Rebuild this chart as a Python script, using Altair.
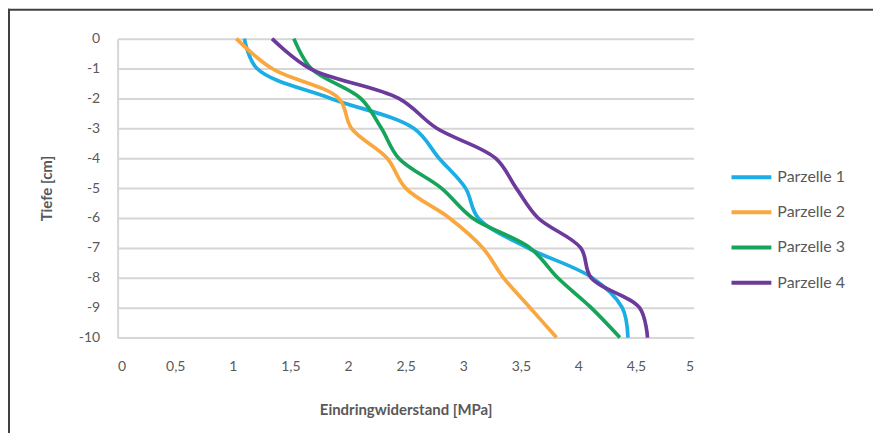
import altair as alt
import pandas as pd

depth = [0, -1, -2, -3, -4, -5, -6, -7, -8, -9, -10]
parzelle_1 = [1.10, 1.21, 1.85, 2.57, 2.79, 3.02, 3.13, 3.56, 4.12, 4.38, 4.43]
parzelle_2 = [1.03, 1.34, 1.92, 2.03, 2.34, 2.50, 2.88, 3.17, 3.35, 3.58, 3.81]
parzelle_3 = [1.53, 1.68, 2.11, 2.29, 2.44, 2.81, 3.08, 3.58, 3.82, 4.11, 4.36]
parzelle_4 = [1.34, 1.67, 2.44, 2.77, 3.28, 3.46, 3.65, 4.02, 4.11, 4.53, 4.60]

series_names = ["Parzelle 1", "Parzelle 2", "Parzelle 3", "Parzelle 4"]
series_colors = ["#1aaee5", "#f9a73e", "#16a45a", "#6b3a9b"]
x_ticks = [0, 0.5, 1, 1.5, 2, 2.5, 3, 3.5, 4, 4.5, 5]
y_ticks = [0, -1, -2, -3, -4, -5, -6, -7, -8, -9, -10]

rows = []
for name, vals in zip(series_names, [parzelle_1, parzelle_2, parzelle_3, parzelle_4]):
    for i, (d, v) in enumerate(zip(depth, vals)):
        rows.append({"serie": name, "tiefe": d, "wert": v, "idx": i})
df = pd.DataFrame(rows)

FONT = "Lato"
GRID = "#d6d6d6"
TEXT = "#595959"

lines = alt.Chart(df).mark_line(
    interpolate="catmull-rom", strokeWidth=3.7
).encode(
    x=alt.X(
        "wert:Q",
        scale=alt.Scale(domain=[0, 5], nice=False, zero=False),
        axis=alt.Axis(
            title="Eindringwiderstand [MPa]",
            values=x_ticks,
            labelExpr="replace(datum.value + '', '.', ',')",
            grid=False,
            ticks=False,
            tickSize=0,
            domain=True,
            domainColor=GRID,
            domainWidth=2,
            labelPadding=22,
            labelFont=FONT,
            labelFontSize=14,
            labelColor=TEXT,
            titleFont=FONT,
            titleFontSize=15,
            titleFontWeight="bold",
            titleColor=TEXT,
            titleX=289,
            titleY=72,
            titleBaseline="middle",
        ),
    ),
    y=alt.Y(
        "tiefe:Q",
        scale=alt.Scale(domain=[-10, 0], nice=False, zero=False),
        axis=alt.Axis(
            title="Tiefe [cm]",
            values=y_ticks,
            labelExpr="datum.value + ''",
            grid=True,
            gridColor=GRID,
            gridWidth=2,
            ticks=False,
            tickSize=0,
            domain=True,
            domainColor=GRID,
            domainWidth=2,
            labelPadding=18,
            labelFont=FONT,
            labelFontSize=14,
            labelColor=TEXT,
            titleFont=FONT,
            titleFontSize=15,
            titleFontWeight="bold",
            titleColor=TEXT,
            titleX=-71,
            titleY=150,
            titleBaseline="middle",
        ),
    ),
    color=alt.Color(
        "serie:N",
        scale=alt.Scale(domain=series_names, range=series_colors),
        legend=alt.Legend(
            title=None,
            orient="none",
            legendX=614,
            legendY=117,
            symbolType="stroke",
            symbolSize=1600,
            symbolStrokeWidth=4,
            labelFont=FONT,
            labelFontSize=16,
            labelColor=TEXT,
            labelOffset=4,
            rowPadding=5.3,
            padding=0,
        ),
    ),
    order=alt.Order("idx:Q"),
)

frame = alt.Data(values=[{"k": 1}])
border_left = alt.Chart(frame).mark_rule(color="#404040", strokeWidth=2).encode(
    x=alt.value(-109), y=alt.value(-30), y2=alt.value(400)
)
border_top = alt.Chart(frame).mark_rule(color="#404040", strokeWidth=2).encode(
    x=alt.value(-110), x2=alt.value(770), y=alt.value(-29)
)

chart = alt.layer(lines, border_left, border_top).properties(
    width=578,
    height=300,
    autosize=alt.AutoSizeParams(type="none"),
    padding={"left": 110, "top": 30, "right": 180, "bottom": 95},
).configure_view(strokeWidth=0)

chart.save("out.html", embed_options={"renderer": "svg", "actions": False})
